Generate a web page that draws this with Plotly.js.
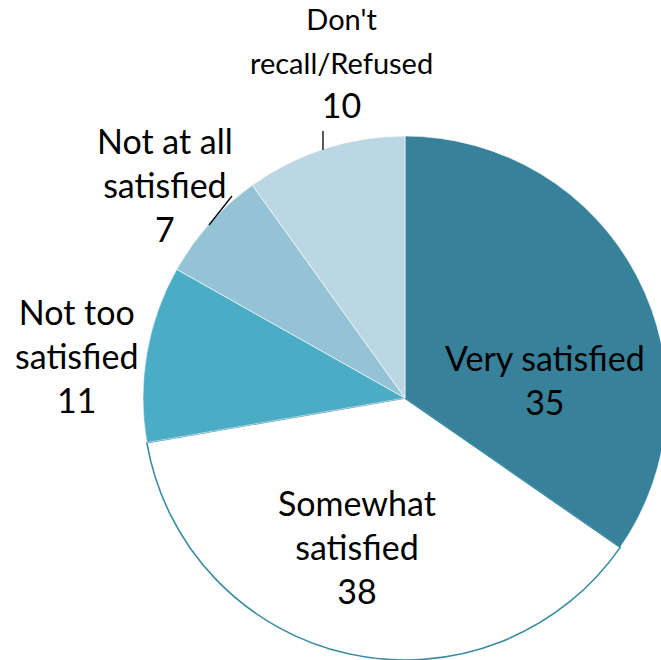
<!DOCTYPE html>
<html><head><meta charset="utf-8">
<script src="https://cdn.plot.ly/plotly-3.0.1.min.js"></script>
<style>html,body{margin:0;padding:0;overflow:hidden;background:#fff}#c{width:670px;height:660px}</style>
</head><body><div id="c"></div>
<script>
const categories = ["Very satisfied", "Somewhat satisfied", "Not too satisfied", "Not at all satisfied", "Don't recall/Refused"];
const labelLines = ["Very satisfied", "Somewhat<br>satisfied", "Not too<br>satisfied", "Not at all<br>satisfied", "Don't<br>recall/Refused"];
const values = [35, 38, 11, 7, 10];
const colors = ["#37829A", "#FFFFFF", "#4BACC6", "#93C3D5", "#BCD7E4"];

const W = 670, H = 660;
const px = x => x / W, py = y => 1 - y / H;
// label anchor positions in pixels (centre of block)
const labelPos = [[545, 379], [357, 546], [77, 355], [165, 184], [341, 63]];
const nameSize = [34, 34, 34, 34, 29];
const valSize = 34;

const annotations = categories.map((c, i) => ({
  xref: 'paper', yref: 'paper', x: px(labelPos[i][0]), y: py(labelPos[i][1]),
  xanchor: 'center', yanchor: 'middle', showarrow: false, align: 'center',
  text: '<span style="font-size:' + nameSize[i] + 'px">' + labelLines[i] + '</span><br>' + values[i],
  font: {family: 'Lato, sans-serif', size: valSize, color: '#000'}
}));

const shapes = [
  {type: 'line', xref: 'paper', yref: 'paper', x0: px(323), y0: py(131), x1: px(323), y1: py(150), line: {color: '#000', width: 1.3}},
  {type: 'line', xref: 'paper', yref: 'paper', x0: px(232), y0: py(196), x1: px(209), y1: py(225), line: {color: '#000', width: 1.3}}
];

Plotly.newPlot('c', [{
  type: 'pie', labels: categories, values: values, sort: false, direction: 'clockwise', rotation: 0,
  textinfo: 'none', hoverinfo: 'label+value',
  marker: {colors: colors, line: {color: ['#FFFFFF', '#3A8CA3', '#FFFFFF', '#FFFFFF', '#FFFFFF'], width: [0.6, 1.6, 0.6, 0.6, 0.6]}},
  domain: {x: [143 / W, 667 / W], y: [0, 524 / H]}
}], {
  width: W, height: H, margin: {l: 0, r: 0, t: 0, b: 0}, showlegend: false,
  paper_bgcolor: '#fff', annotations: annotations, shapes: shapes
}, {staticPlot: true});
</script></body></html>
